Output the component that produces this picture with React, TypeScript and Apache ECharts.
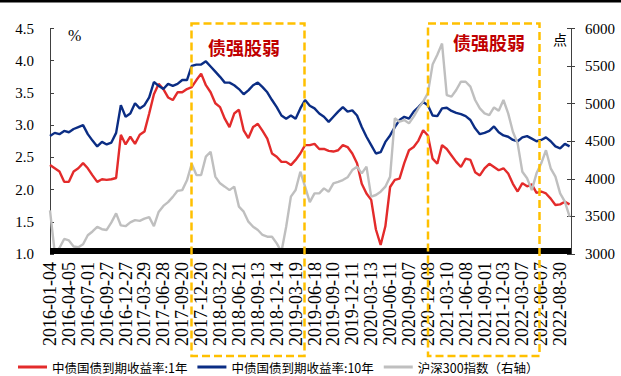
import React, { useEffect, useRef } from 'react';
import * as echarts from 'echarts';

// Labelled trading dates; 4 data points per labelled interval
const tickDates = [
  '2016-01-04', '2016-04-05', '2016-07-01', '2016-09-27', '2016-12-27', '2017-03-29', '2017-06-28',
  '2017-09-20', '2017-12-20', '2018-03-22', '2018-06-21', '2018-09-13', '2018-12-14', '2019-03-19',
  '2019-06-18', '2019-09-10', '2019-12-11', '2020-03-13', '2020-06-11', '2020-09-07', '2020-12-08',
  '2021-03-10', '2021-06-08', '2021-09-01', '2021-12-03', '2022-03-07', '2022-06-07', '2022-08-30',
];
const STEP = 4;

const seriesNames = ['中债国债到期收益率:1年', '中债国债到期收益率:10年', '沪深300指数（右轴）'];

const yield1Y = [
  2.38, 2.33, 2.28, 2.12, 2.12, 2.28, 2.33, 2.41, 2.33, 2.22,
  2.12, 2.16, 2.15, 2.16, 2.18, 2.85, 2.70, 2.82, 2.71, 2.85,
  2.90, 3.18, 3.48, 3.64, 3.56, 3.43, 3.39, 3.51, 3.51, 3.56,
  3.59, 3.70, 3.80, 3.62, 3.51, 3.34, 3.28, 3.10, 2.97, 3.18,
  3.24, 2.92, 2.80, 2.97, 3.02, 2.91, 2.79, 2.56, 2.51, 2.43,
  2.43, 2.38, 2.46, 2.56, 2.69, 2.69, 2.71, 2.63, 2.63, 2.60,
  2.59, 2.61, 2.69, 2.66, 2.56, 2.41, 2.09, 1.94, 1.84, 1.38,
  1.14, 1.43, 2.04, 2.15, 2.17, 2.41, 2.61, 2.66, 2.76, 2.92,
  2.84, 2.48, 2.40, 2.69, 2.63, 2.53, 2.43, 2.35, 2.48, 2.46,
  2.27, 2.22, 2.33, 2.40, 2.35, 2.30, 2.33, 2.25, 2.09, 1.97,
  2.10, 2.05, 2.08, 1.95, 1.97, 1.94, 1.86, 1.76, 1.77, 1.81,
  1.77,
];

const yield10Y = [
  2.83, 2.88, 2.86, 2.91, 2.89, 2.94, 2.97, 3.00, 2.86, 2.76,
  2.67, 2.74, 2.70, 2.73, 2.88, 3.31, 3.13, 3.18, 3.34, 3.26,
  3.31, 3.43, 3.67, 3.61, 3.56, 3.64, 3.61, 3.64, 3.70, 3.70,
  3.92, 3.94, 3.94, 3.99, 3.91, 3.83, 3.75, 3.66, 3.66, 3.62,
  3.56, 3.48, 3.54, 3.62, 3.66, 3.59, 3.51, 3.39, 3.28, 3.15,
  3.10, 3.15, 3.10, 3.26, 3.39, 3.30, 3.26, 3.18, 3.13, 3.05,
  3.13, 3.21, 3.28, 3.21, 3.23, 3.15, 2.97, 2.82, 2.69, 2.56,
  2.58, 2.74, 2.84, 2.97, 3.08, 3.13, 3.10, 3.21, 3.28, 3.36,
  3.31, 3.15, 3.14, 3.26, 3.27, 3.22, 3.19, 3.17, 3.14, 3.08,
  2.95, 2.86, 2.88, 2.91, 2.98, 2.89, 2.84, 2.82, 2.77, 2.75,
  2.81, 2.83, 2.79, 2.75, 2.77, 2.81, 2.75, 2.67, 2.64, 2.71,
  2.67,
];

const hs300 = [
  3580, 3020, 3080, 3200, 3180, 3100, 3090, 3130, 3250, 3300,
  3360, 3330, 3320, 3420, 3540, 3380, 3370, 3420, 3450, 3440,
  3470, 3490, 3370, 3560, 3640, 3690, 3760, 3840, 3850, 3980,
  4200, 4050, 4050, 4295, 4360, 4030, 3940, 3896, 3850, 3896,
  3630, 3563, 3430, 3363, 3319, 3253, 3230, 3230, 3142, 3030,
  3363, 3763, 3851, 4095, 3896, 3690, 3807, 3807, 3873, 3829,
  3940, 3960, 3984, 4020, 4117, 4162, 4073, 4162, 3763, 3785,
  3829, 3896, 4029, 4805, 4760, 4782, 4738, 4827, 4938, 5027,
  5140, 5520, 5650, 5800, 5115, 5093, 5182, 5292, 5292, 5226,
  5049, 4938, 4871, 4849, 4950, 4905, 5049, 4871, 4627, 4472,
  4095, 4007, 3850, 4073, 4206, 4380, 4140, 4029, 3807, 3696,
  3497,
];

const leftTicks = { min: 1, max: 4.5, interval: 0.5 };
const rightTicks = { min: 3000, max: 6000, interval: 500 };

const colors = ['#E32B2B', '#0B2D84', '#BFBFBF'];

export default function App() {
  const ref = useRef<HTMLDivElement>(null);
  useEffect(() => {
    const chart = echarts.init(ref.current!, null, { renderer: 'svg' });
    const toXY = (arr: number[]) => arr.map((v, i) => [i, v]);
    const serif = '"Liberation Serif", "Times New Roman", serif';
    const cjk = '"Noto Sans CJK SC", sans-serif';
    const boxStyle = { fill: 'none', stroke: '#FFC000', lineWidth: 2.5, lineDash: [8, 4] };
    chart.setOption({
      animation: false,
      backgroundColor: '#fff',
      grid: { left: 50, right: 50, top: 28.5, bottom: 122, containLabel: false },
      legend: {
        left: 18,
        top: 360,
        icon: 'rect',
        itemWidth: 29,
        itemHeight: 3,
        itemGap: 10,
        padding: 0,
        textStyle: { fontSize: 12.5, lineHeight: 14, fontFamily: cjk, color: '#000' },
        data: seriesNames,
      },
      xAxis: {
        type: 'value',
        min: 0,
        max: (tickDates.length - 1) * STEP + 2.3,
        interval: STEP,
        axisLine: { show: false },
        axisTick: { show: false },
        splitLine: { show: false },
        axisLabel: {
          rotate: 90,
          margin: 8,
          fontSize: 18,
          fontFamily: serif,
          color: '#000',
          showMaxLabel: false,
          formatter: (v: number) => (v % STEP === 0 && tickDates[v / STEP]) ? tickDates[v / STEP] : '',
        },
      },
      yAxis: [
        {
          type: 'value',
          position: 'left',
          ...leftTicks,
          axisLine: { show: true, lineStyle: { color: '#404040', width: 1 } },
          axisTick: { show: true, inside: true, length: 4, lineStyle: { color: '#404040' } },
          splitLine: { show: false },
          axisLabel: {
            margin: 16,
            fontSize: 15,
            fontFamily: serif,
            color: '#000',
            formatter: (v: number) => v.toFixed(1),
          },
        },
        {
          type: 'value',
          position: 'right',
          ...rightTicks,
          axisLine: { show: true, lineStyle: { color: '#404040', width: 1 } },
          axisTick: { show: true, inside: false, length: 4, lineStyle: { color: '#404040' } },
          splitLine: { show: false },
          axisLabel: {
            margin: 14, fontSize: 15, fontFamily: serif, color: '#000',
            formatter: (v: number) => String(v),
          },
        },
        {
          type: 'value',
          position: 'right',
          ...rightTicks,
          axisLine: { show: false },
          axisTick: { show: true, inside: true, length: 4, lineStyle: { color: '#404040' } },
          splitLine: { show: false },
          axisLabel: { show: false },
        },
      ],
      series: [
        {
          name: seriesNames[0], type: 'line', yAxisIndex: 0, data: toXY(yield1Y),
          showSymbol: false, symbol: 'none', lineStyle: { color: colors[0], width: 2.4 }, itemStyle: { color: colors[0] },
        },
        {
          name: seriesNames[1], type: 'line', yAxisIndex: 0, data: toXY(yield10Y),
          showSymbol: false, symbol: 'none', lineStyle: { color: colors[1], width: 2.4 }, itemStyle: { color: colors[1] },
        },
        {
          name: seriesNames[2], type: 'line', yAxisIndex: 1, data: toXY(hs300),
          showSymbol: false, symbol: 'none', lineStyle: { color: colors[2], width: 2.4 }, itemStyle: { color: colors[2] },
        },
      ],
      graphic: [
        { type: 'rect', shape: { x: 0, y: 0, width: 621, height: 2.5 }, style: { fill: '#000' }, z: 100 },
        { type: 'rect', shape: { x: 50, y: 248, width: 521, height: 6 }, style: { fill: '#000' }, z: 100 },
        { type: 'rect', shape: { x: 191.5, y: 23.5, width: 113, height: 332.5 }, style: boxStyle, z: 110 },
        { type: 'rect', shape: { x: 428, y: 23.5, width: 111.5, height: 332.5 }, style: boxStyle, z: 110 },
        {
          type: 'text', x: 244, y: 47, z: 110,
          style: { text: '债强股弱', fill: '#C00000', fontSize: 18, fontWeight: 'bold', fontFamily: cjk, align: 'center', verticalAlign: 'middle' },
        },
        {
          type: 'text', x: 489, y: 42, z: 110,
          style: { text: '债强股弱', fill: '#C00000', fontSize: 18, fontWeight: 'bold', fontFamily: cjk, align: 'center', verticalAlign: 'middle' },
        },
        {
          type: 'text', x: 68, y: 35, z: 110,
          style: { text: '%', fill: '#000', fontSize: 16, fontFamily: serif, align: 'left', verticalAlign: 'middle' },
        },
        {
          type: 'text', x: 553, y: 39, z: 110,
          style: { text: '点', fill: '#000', fontSize: 14, fontFamily: cjk, align: 'left', verticalAlign: 'middle' },
        },
      ],
    });
    return () => chart.dispose();
  }, []);
  return (
    <div
      ref={ref}
      style={{ position: 'fixed', left: 0, top: 0, width: 621, height: 376, background: '#fff' }}
    />
  );
}
